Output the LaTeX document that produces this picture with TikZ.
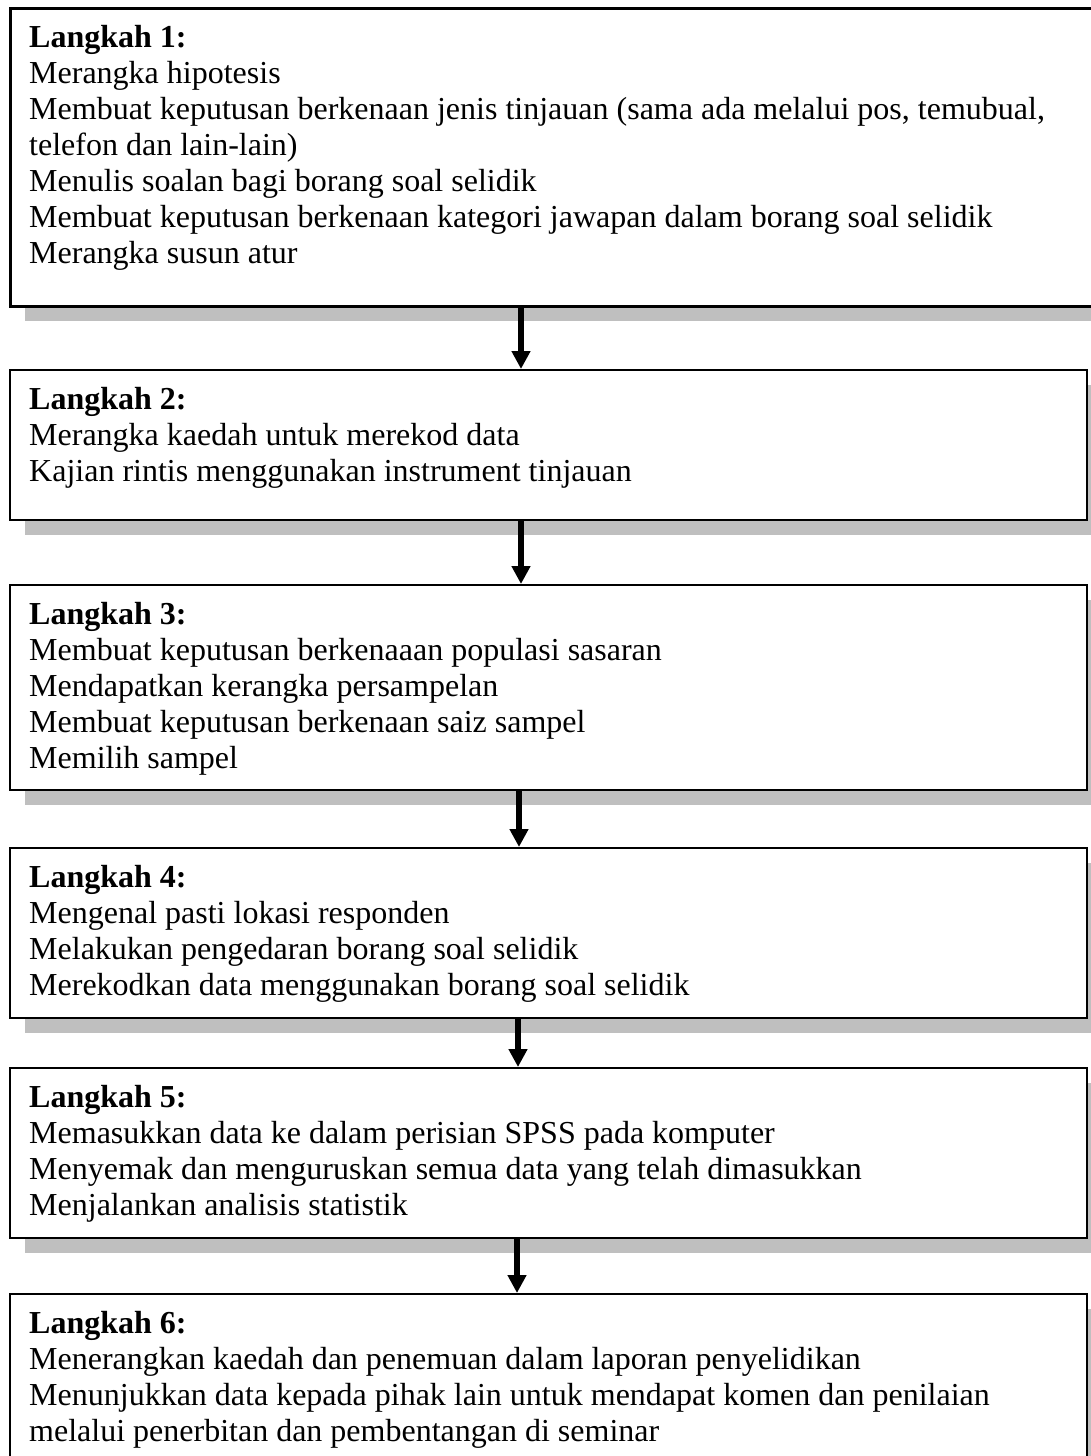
\documentclass[tikz,border=0pt]{standalone}
\usepackage{fontspec}
\setmainfont{Liberation Serif}
\usetikzlibrary{arrows.meta}
\definecolor{shadowgray}{RGB}{191,191,191}
\begin{document}
\begin{tikzpicture}[x=1pt,y=-1pt,
  stepbox/.style={draw=black, line width=2pt, fill=white, rectangle, inner sep=0pt, anchor=north west, minimum width=1077pt},
  firstbox/.style={stepbox, line width=3pt, minimum width=1110pt},
  txt/.style={anchor=north west, inner sep=0pt, align=left, font=\fontsize{32}{36}\selectfont},
  arr/.style={line width=5.5pt, -{Triangle[width=18pt,length=18pt]}}
]
\useasboundingbox (0,0) rectangle (1091,1456);
\clip (0,0) rectangle (1091,1456);
% shadows
\fill[shadowgray] (25,23) rectangle (1126,321);
\fill[shadowgray] (25,385) rectangle (1102,535);
\fill[shadowgray] (25,600) rectangle (1102,805);
\fill[shadowgray] (25,863) rectangle (1102,1033);
\fill[shadowgray] (25,1083) rectangle (1102,1253);
\fill[shadowgray] (25,1309) rectangle (1102,1500);
% boxes
\node[firstbox, minimum height=298pt] (b1) at (9,7) {};
\node[stepbox, minimum height=150pt] (b2) at (9,369) {};
\node[stepbox, minimum height=205pt] (b3) at (9,584) {};
\node[stepbox, minimum height=170pt] (b4) at (9,847) {};
\node[stepbox, minimum height=170pt] (b5) at (9,1067) {};
\node[stepbox, minimum height=230pt] (b6) at (9,1293) {};
% texts
\node[txt] (t1) at (29,22.3) {\strut\textbf{Langkah 1:}\\
Merangka hipotesis\\
Membuat keputusan berkenaan jenis tinjauan (sama ada melalui pos, temubual,\\
telefon dan lain-lain)\\
Menulis soalan bagi borang soal selidik\\
Membuat keputusan berkenaan kategori jawapan dalam borang soal selidik\\
Merangka susun atur};
\node[txt] (t2) at (29,384.3) {\strut\textbf{Langkah 2:}\\
Merangka kaedah untuk merekod data\\
Kajian rintis menggunakan instrument tinjauan};
\node[txt] (t3) at (29,599.3) {\strut\textbf{Langkah 3:}\\
Membuat keputusan berkenaaan populasi sasaran\\
Mendapatkan kerangka persampelan\\
Membuat keputusan berkenaan saiz sampel\\
Memilih sampel};
\node[txt] (t4) at (29,862.3) {\strut\textbf{Langkah 4:}\\
Mengenal pasti lokasi responden\\
Melakukan pengedaran borang soal selidik\\
Merekodkan data menggunakan borang soal selidik};
\node[txt] (t5) at (29,1082.3) {\strut\textbf{Langkah 5:}\\
Memasukkan data ke dalam perisian SPSS pada komputer\\
Menyemak dan menguruskan semua data yang telah dimasukkan\\
Menjalankan analisis statistik};
\node[txt] (t6) at (29,1308.3) {\strut\textbf{Langkah 6:}\\
Menerangkan kaedah dan penemuan dalam laporan penyelidikan\\
Menunjukkan data kepada pihak lain untuk mendapat komen dan penilaian\\
melalui penerbitan dan pembentangan di seminar};
% arrows
\coordinate (a1) at (521,0);
\coordinate (a2) at (521,0);
\coordinate (a3) at (519,0);
\coordinate (a4) at (518,0);
\coordinate (a5) at (517,0);
\draw[arr] (b1.south -| a1) -- (b2.north -| a1);
\draw[arr] (b2.south -| a2) -- (b3.north -| a2);
\draw[arr] (b3.south -| a3) -- (b4.north -| a3);
\draw[arr] (b4.south -| a4) -- (b5.north -| a4);
\draw[arr] (b5.south -| a5) -- (b6.north -| a5);
\end{tikzpicture}
\end{document}
